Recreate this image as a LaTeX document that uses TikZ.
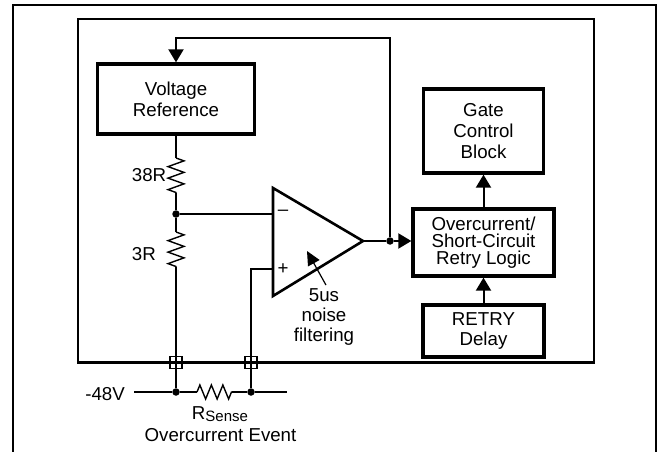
\documentclass[tikz,border=0pt]{standalone}
\usepackage{fontspec}
\setmainfont{Liberation Sans}
\usetikzlibrary{arrows.meta,decorations.pathmorphing}
\tikzset{
  blk/.style={draw,line width=3.3pt,align=center,inner sep=0pt},
  wire/.style={line width=2pt},
  arr/.style={wire,-{Triangle[length=13pt,width=15pt]}},
  res/.style={line width=1.4pt,decorate,decoration={zigzag,amplitude=8pt,segment length=11.5pt}},
  dot/.style={circle,fill,inner sep=0pt,minimum size=7.5pt},
  pad/.style={draw,line width=1.8pt,inner sep=0pt,minimum size=12pt},
  lbl/.style={inner sep=0pt}
}
\begin{document}
\begin{tikzpicture}[x=1pt,y=-1pt,font=\fontsize{18.7}{20.7}\selectfont]
  \useasboundingbox (0,0) rectangle (659,452);
  \clip (0,0) rectangle (659,452);
  \draw [line width=2.3pt] (13,470) -- (13,5) -- (656,5) -- (656,470);
  \draw [line width=2.3pt] (78,19) rectangle (594,362.5);

  \node [blk,minimum width=157pt,minimum height=70pt] (vref) at (176,99) {Voltage\\Reference};
  \node [blk,minimum width=120pt,minimum height=84pt] (gate) at (483.5,131) {Gate\\Control\\Block};
  \node [blk,minimum width=141pt,minimum height=67pt,font=\fontsize{18.7}{17}\selectfont] (ocl) at (483.5,242.5) {Overcurrent/\\Short-Circuit\\Retry Logic};
  \node [blk,minimum width=121pt,minimum height=52pt] (rdly) at (483.5,331) {RETRY\\Delay};

  \coordinate (r1a) at (176,158);
  \coordinate (r1b) at (176,193);
  \node [dot] (n1) at (176,214) {};
  \coordinate (r2a) at (176,232);
  \coordinate (r2b) at (176,267);
  \node [lbl,anchor=base west] (l38) at (131.7,181.7) {38R};
  \node [lbl,anchor=base west] (l3) at (131.7,260) {3R};

  \coordinate (inm) at (273,214);
  \coordinate (inp) at (273,269);
  \coordinate (oa) at (363,241);
  \draw [line width=2.6pt] (273,188) -- (oa) -- (273,296) -- cycle;
  \node [lbl] (mi) at (283,212.5) {--};
  \node [lbl] (pl) at (283,269) {+};
  \coordinate (nf) at (307,251);
  \node [align=center,font=\fontsize{18.7}{20}\selectfont] (filt) at (324,317) {5us\\noise\\filtering};
  \draw [line width=1.2pt,-{Triangle[length=14pt,width=13pt]}] ([xshift=2pt]filt.north) -- (nf);

  \node [dot] (jo) at (390,241) {};
  \coordinate (fb) at (390,38);

  \coordinate (sl) at (134,392);
  \coordinate (sr) at (287,392);
  \node [dot] (sa) at (176,392) {};
  \node [dot] (sb) at (251,392) {};
  \coordinate (rs1) at (197,392);
  \coordinate (rs2) at (232,392);

  \draw [wire] (vref) -- (r1a);
  \draw [res] (r1a) -- (r1b);
  \draw [wire] (r1b) -- (n1) -- (r2a);
  \draw [res] (r2a) -- (r2b);
  \draw [wire] (r2b) -- (sa);
  \draw [wire] (n1) -- (inm);
  \draw [wire] (inp) -| (sb);
  \draw [wire] (oa) -- (jo);
  \draw [arr] (jo) -- (jo -| ocl.west);
  \draw [arr] (jo) -- (fb) -| (vref);
  \draw [arr] (ocl) -- (gate);
  \draw [arr] (rdly) -- (ocl);

  \draw [wire] (sl) -- (sa) -- (rs1);
  \draw [res,decoration={amplitude=7pt}] (rs1) -- (rs2);
  \draw [wire] (rs2) -- (sb) -- (sr);
  \node [pad] (pa) at (176,362.5) {};
  \node [pad] (pb) at (251,362.5) {};

  \node [lbl,anchor=base east] (vin) at (125,400) {-48V};
  \node [lbl,anchor=base] (rsl) at (220,419.3) {R\raisebox{-2.5pt}{\fontsize{15}{15}\selectfont Sense}};
  \node [lbl,anchor=base] (ev) at (220.5,441.7) {Overcurrent Event};
\end{tikzpicture}
\end{document}
